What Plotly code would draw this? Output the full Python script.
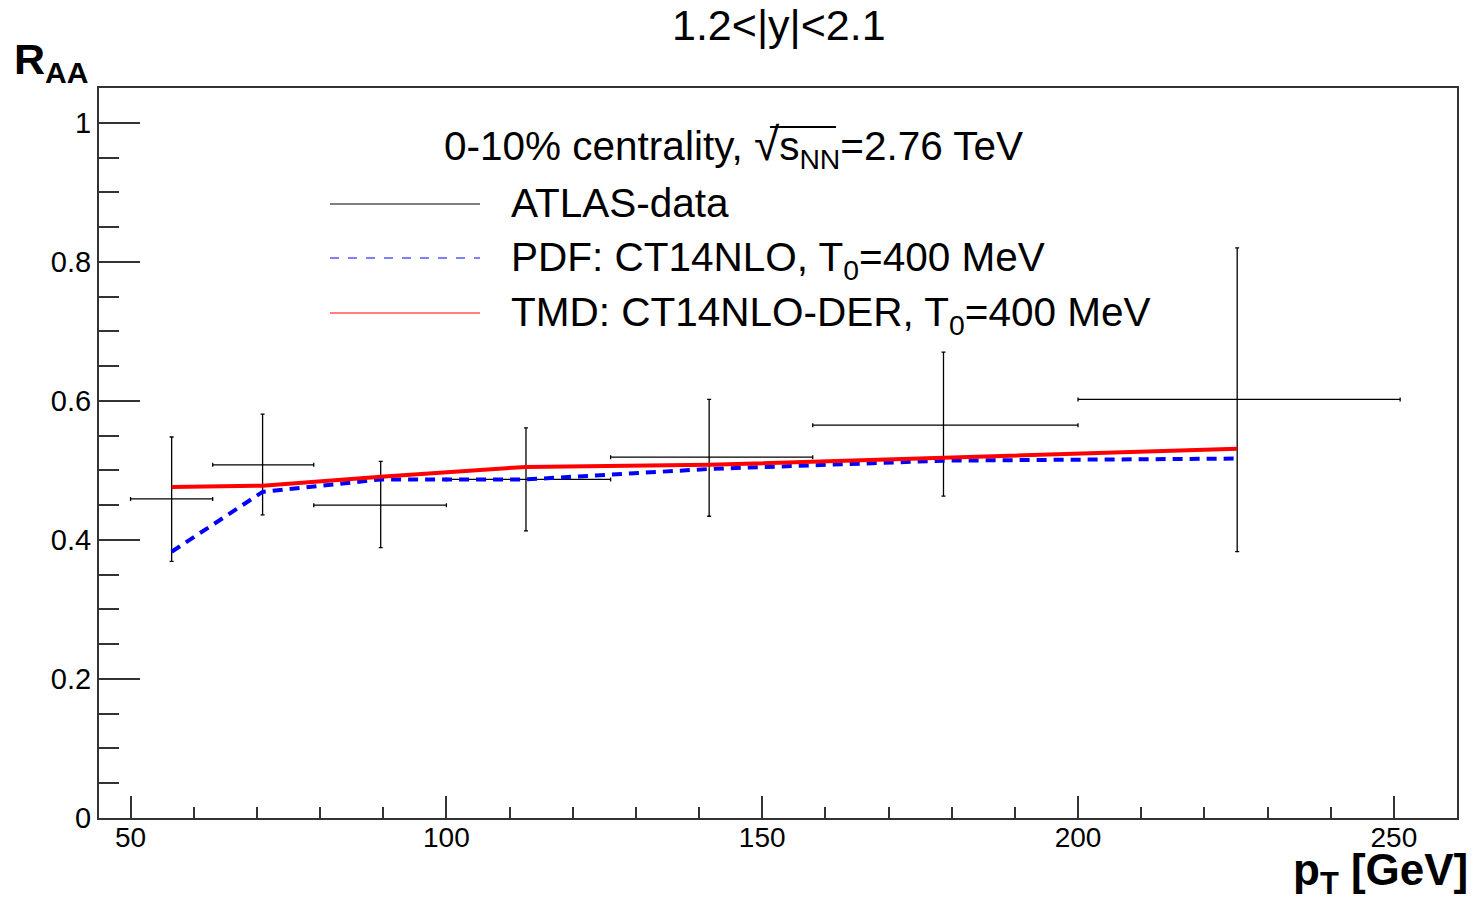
import plotly.graph_objects as go

# ATLAS jet R_AA, 0-10% centrality, 1.2<|y|<2.1
pt = [56.5, 70.9, 89.6, 112.6, 141.6, 178.7, 225.2]
bin_lo = [50, 63, 79, 100, 126, 158, 200]
bin_hi = [63, 79, 100, 126, 158, 200, 251]
raa_data = [0.459, 0.508, 0.450, 0.487, 0.519, 0.565, 0.602]
err_up = [0.089, 0.073, 0.063, 0.074, 0.083, 0.105, 0.218]
err_dn = [0.090, 0.072, 0.061, 0.074, 0.085, 0.102, 0.219]

# model curves evaluated at the bin centres
raa_pdf = [0.383, 0.469, 0.487, 0.487, 0.502, 0.514, 0.517]
raa_tmd = [0.476, 0.478, 0.491, 0.505, 0.508, 0.518, 0.531]

FONT = "Liberation Sans, Arial, sans-serif"

fig = go.Figure()

fig.add_trace(go.Scatter(
    x=pt, y=raa_data, mode="markers",
    marker=dict(size=1, color="black"),
    error_x=dict(type="data", symmetric=False,
                 array=[h - x for h, x in zip(bin_hi, pt)],
                 arrayminus=[x - l for l, x in zip(bin_lo, pt)],
                 color="black", thickness=1.3, width=2),
    error_y=dict(type="data", symmetric=False, array=err_up, arrayminus=err_dn,
                 color="black", thickness=1.3, width=2),
    showlegend=False,
))
fig.add_trace(go.Scatter(
    x=pt, y=raa_pdf, mode="lines",
    line=dict(color="#0000ff", width=4, dash="10px,7px"),
    showlegend=False,
))
fig.add_trace(go.Scatter(
    x=pt, y=raa_tmd, mode="lines",
    line=dict(color="#ff0000", width=4),
    showlegend=False,
))

# plot-area geometry in pixels, used to place legend / labels
L, R, T, B = 99, 1457, 88, 818
def px(xp):
    return (xp - L) / (R - L)
def py(yp):
    return (B - yp) / (B - T)

annotations = [
    dict(text="1.2&lt;|y|&lt;2.1", x=px(779), y=py(25), font=dict(size=43)),
    dict(text="0-10% centrality, <span style='font-size:46px'>√</span>s<sub>NN</sub>=2.76 TeV",
         x=px(733), y=py(147), font=dict(size=40.5)),
    dict(text="ATLAS-data", x=px(509), y=py(203), xanchor="left", font=dict(size=40.5)),
    dict(text="PDF: CT14NLO, T<sub>0</sub>=400 MeV", x=px(509), y=py(260), xanchor="left",
         font=dict(size=40.5)),
    dict(text="TMD: CT14NLO-DER, T<sub>0</sub>=400 MeV", x=px(509), y=py(315), xanchor="left",
         font=dict(size=40.5)),
    dict(text="<b>R<sub>AA</sub></b>", x=px(12), y=py(62), xanchor="left", font=dict(size=43)),
    dict(text="<b>p<sub>T</sub> [GeV]</b>", x=px(1470), y=py(873), xanchor="right",
         font=dict(size=44)),
]
for a in annotations:
    a.update(xref="paper", yref="paper", showarrow=False)
    a.setdefault("xanchor", "center")
    a["yanchor"] = "middle"
    a["font"].update(family=FONT, color="black")

legend_lines = [
    dict(y=204, color="black", dash="solid"),
    dict(y=258, color="#0000ff", dash="dash"),
    dict(y=313, color="#ff0000", dash="solid"),
]
shapes = [
    dict(type="line", xref="paper", yref="paper", x0=px(330), x1=px(480),
         y0=py(s["y"]), y1=py(s["y"]), line=dict(color=s["color"], width=1.2, dash=s["dash"]))
    for s in legend_lines
]
# bar of the square root over s_NN
shapes.append(dict(type="line", xref="paper", yref="paper", x0=px(770), x1=px(836),
                   y0=py(127), y1=py(127), line=dict(color="black", width=2)))

fig.update_layout(
    width=1476, height=906,
    margin=dict(l=L, r=1476 - R, t=T, b=906 - B),
    paper_bgcolor="white", plot_bgcolor="white",
    font=dict(family=FONT, size=28, color="black"),
    annotations=annotations, shapes=shapes,
    xaxis=dict(range=[45, 260], showgrid=False, zeroline=False,
               showline=True, linecolor="#333333", linewidth=2, mirror=True,
               ticks="inside", ticklen=22, tickwidth=1.5, tickcolor="#333333",
               tickmode="array", tickvals=[50, 100, 150, 200, 250],
               ticklabelstandoff=-7,
               minor=dict(ticks="inside", ticklen=11, tickwidth=1.5,
                          tickcolor="#333333", dtick=10, showgrid=False),
               tickfont=dict(size=28)),
    yaxis=dict(range=[0, 1.05], showgrid=False, zeroline=False,
               showline=True, linecolor="#333333", linewidth=2, mirror=True,
               ticks="inside", ticklen=41, tickwidth=1.5, tickcolor="#333333",
               tickmode="array", tickvals=[0, 0.2, 0.4, 0.6, 0.8, 1.0],
               ticktext=["0", "0.2", "0.4", "0.6", "0.8", "1"],
               minor=dict(ticks="inside", ticklen=20, tickwidth=1.5,
                          tickcolor="#333333", dtick=0.05, showgrid=False),
               tickfont=dict(size=29)),
)

fig.write_html("out.html")
